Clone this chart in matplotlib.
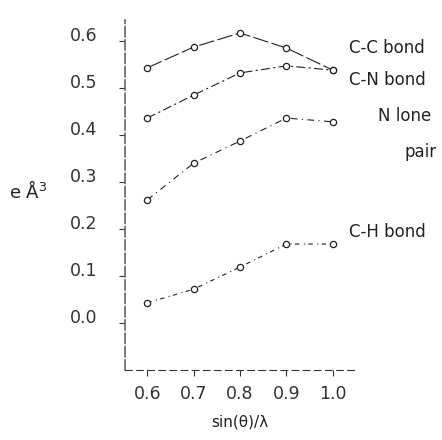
import matplotlib
matplotlib.use("Agg")
import matplotlib.pyplot as plt
import matplotlib.transforms as mtrans

x = [0.6, 0.7, 0.8, 0.9, 1.0]
cc_bond = [0.543, 0.587, 0.617, 0.585, 0.538]
cn_bond = [0.436, 0.485, 0.532, 0.547, 0.538]
n_lone = [0.262, 0.340, 0.387, 0.436, 0.428]
ch_bond = [0.043, 0.072, 0.119, 0.168, 0.168]

yticks = [0.0, 0.1, 0.2, 0.3, 0.4, 0.5, 0.6]
xticks = [0.6, 0.7, 0.8, 0.9, 1.0]

plt.rcParams['font.family'] = ['DejaVu Sans']

fig = plt.figure(figsize=(4.42, 4.40), dpi=100)
ax = fig.add_axes([0.283, 0.159, 0.52, 0.796])

series = [
    (cc_bond, (0, (14, 3))),
    (cn_bond, (0, (8, 3, 2, 3))),
    (n_lone, (0, (6, 4, 1, 4))),
    (ch_bond, (0, (4, 4, 1, 3))),
]
for ys, ls in series:
    ax.plot(x, ys, color='#222222', lw=0.8, linestyle=ls,
            marker='o', ms=4.5, mfc='white', mec='#222222', mew=0.9)

ax.set_xlim(0.552, 1.048)
ax.set_ylim(-0.1, 0.645)
ax.set_xticks(xticks)
ax.set_yticks(yticks)
ax.set_xticklabels(['0.6', '0.7', '0.8', '0.9', '1.0'])
ax.set_yticklabels(['0.0', '0.1', '0.2', '0.3', '0.4', '0.5', '0.6'])
ax.tick_params(axis='both', labelsize=12.5, colors='#333333', length=4, width=0.8)
ax.tick_params(axis='y', pad=16)
ax.tick_params(axis='x', pad=7)
for lab in ax.get_yticklabels():
    lab.set_transform(lab.get_transform() + mtrans.ScaledTranslation(0, 5 / 72, fig.dpi_scale_trans))

for s in ['top', 'right']:
    ax.spines[s].set_visible(False)
ax.spines['left'].set_color('#666666')
ax.spines['left'].set_linestyle((0, (6, 2)))
ax.spines['left'].set_linewidth(1.2)
ax.spines['bottom'].set_color('#333333')
ax.spines['bottom'].set_linestyle((0, (6, 4)))

ax.set_xlabel('sin(θ)/λ', fontsize=11, color='#222222', labelpad=8)

fig.text(0.02, 0.565, 'e Å$^3$', fontsize=13, color='#222222', va='center')

txt = dict(fontsize=12, color='#222222', va='center', transform=fig.transFigure)
fig.text(0.79, 1 - 48 / 440, 'C-C bond', **txt)
fig.text(0.79, 1 - 80 / 440, 'C-N bond', **txt)
fig.text(0.855, 1 - 116 / 440, 'N lone', **txt)
fig.text(0.915, 1 - 152 / 440, 'pair', **txt)
fig.text(0.79, 1 - 232 / 440, 'C-H bond', **txt)

fig.savefig('out.png', dpi=100)
